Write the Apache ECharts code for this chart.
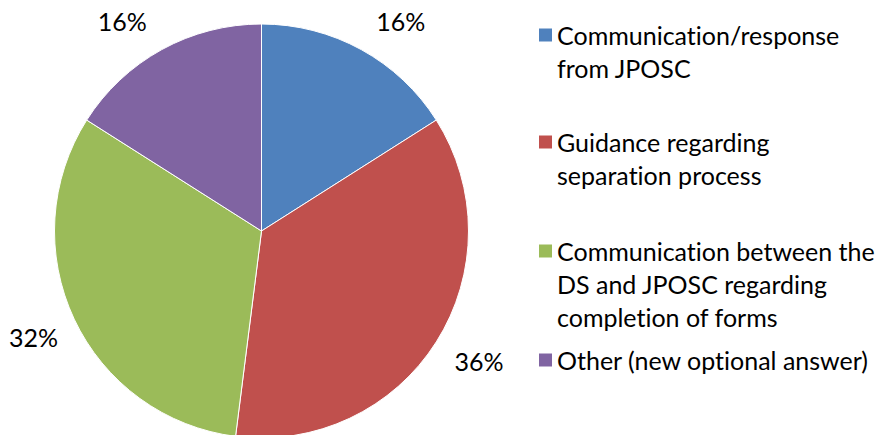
<!DOCTYPE html>
<html>
<head>
<meta charset="utf-8">
<script src="https://cdn.jsdelivr.net/npm/echarts@6/dist/echarts.min.js"></script>
<style>
  html, body { margin: 0; padding: 0; background: #fff; }
  #chart { width: 879px; height: 435px; font-variant-ligatures: none; }
  #chart text { font-variant-ligatures: none !important; }
</style>
</head>
<body>
<div id="chart"></div>
<script>
var categories = ["Communication/response from JPOSC", "Guidance regarding separation process",
  "Communication between the DS and JPOSC regarding completion of forms", "Other (new optional answer)"];
var values = [16, 36, 32, 16]; //百分比
var legendLines = [
  ["Communication/response", "from JPOSC"],
  ["Guidance regarding", "separation process"],
  ["Communication between the", "DS and JPOSC regarding", "completion of forms"],
  ["Other (new optional answer)"]
];
var colors = ["#4F81BD", "#C0504D", "#9BBB59", "#8064A2"];

var FONT = "Lato";
var FONT_SIZE = 25;
var LINE_H = 33;
var legendY = [35, 142, 251, 360]; //每项第一行中心
var labelShift = [[0, -1], [-8, 2], [12, 5], [0, -1]]; //标签微调

var chart = echarts.init(document.getElementById("chart"), null, { renderer: "svg" });

//每个图例单独放，前面补空行让色块对齐第一行
function makeLegends () {
  var arr = [];
  for (var i = 0; i < categories.length; i++) {
    var n = legendLines[i].length;
    var pad = "";
    for (var k = 1; k < n; k++) pad += "\n";
    arr.push({
      data: [categories[i]],
      orient: "vertical",
      left: 539,
      top: legendY[i] - (2 * n - 1) * LINE_H / 2,
      padding: 0,
      itemWidth: 13,
      itemHeight: 13,
      icon: "rect",
      itemStyle: { borderWidth: 0 },
      formatter: (function (t) { return function () { return t; }; })(pad + legendLines[i].join("\n")),
      textStyle: { fontFamily: FONT, fontSize: FONT_SIZE, color: "#000", lineHeight: LINE_H },
      selectedMode: false
    });
  }
  return arr;
}

var pieData = [];
for (var i = 0; i < categories.length; i++) {
  pieData.push({ name: categories[i], value: values[i], itemStyle: { color: colors[i] } });
}

chart.setOption({
  animation: false,
  legend: makeLegends(),
  series: [{
    type: "pie",
    center: [261.5, 231],
    radius: 207,
    startAngle: 90,
    avoidLabelOverlap: false,
    itemStyle: { borderColor: "#fff", borderWidth: 1 },
    label: {
      show: true,
      position: "outside",
      formatter: "{c}%",
      fontFamily: FONT,
      fontSize: FONT_SIZE,
      color: "#000",
      distanceToLabelLine: 0
    },
    labelLine: { show: false, length: 31, length2: 0 },
    labelLayout: function (params) {
      var s = labelShift[params.dataIndex];
      return { dx: s[0], dy: s[1] };
    },
    emphasis: { disabled: true },
    data: pieData
  }]
});
</script>
</body>
</html>
